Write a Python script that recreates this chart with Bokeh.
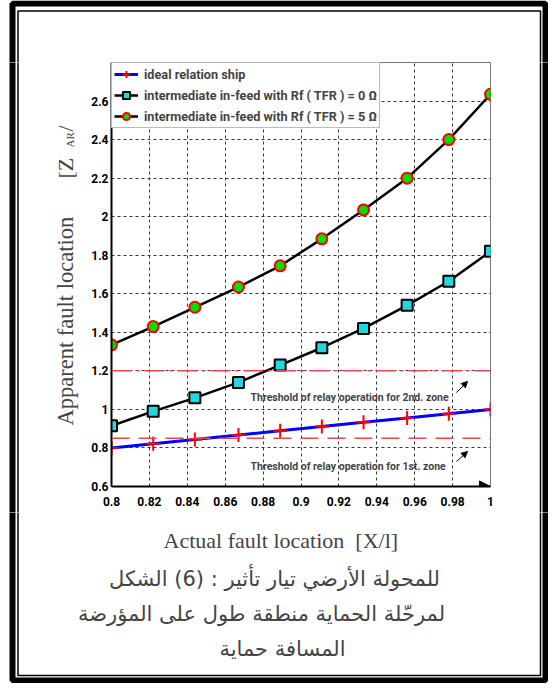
import math
from bokeh.plotting import figure
from bokeh.layouts import column, row
from bokeh.models import (FixedTicker, Legend, LegendItem, Label, BoxAnnotation,
                          Arrow, NormalHead, Span, Range1d)
from bokeh.embed import file_html
from bokeh.resources import INLINE

# ---------------- data ----------------
x_loc = [0.8, 0.822, 0.844, 0.867, 0.889, 0.911, 0.933, 0.956, 0.978, 1.0]
ideal = [0.8, 0.822, 0.844, 0.867, 0.889, 0.911, 0.933, 0.956, 0.978, 1.0]
tfr0 = [0.915, 0.99, 1.06, 1.14, 1.23, 1.32, 1.42, 1.54, 1.665, 1.82]
tfr5 = [1.335, 1.43, 1.53, 1.635, 1.745, 1.885, 2.035, 2.20, 2.40, 2.635]

x_ticks = [0.8, 0.82, 0.84, 0.86, 0.88, 0.9, 0.92, 0.94, 0.96, 0.98, 1.0]
x_tick_labels = ["0.8", "0.82", "0.84", "0.86", "0.88", "0.9", "0.92", "0.94", "0.96", "0.98", "1"]
y_ticks = [0.6, 0.8, 1.0, 1.2, 1.4, 1.6, 1.8, 2.0, 2.2, 2.4, 2.6]
y_tick_labels = ["0.6", "0.8", "1", "1.2", "1.4", "1.6", "1.8", "2", "2.2", "2.4", "2.6"]

zone1_level = 0.85
zone2_level = 1.2

legend_labels = ["ideal relation ship",
                 "intermediate in-feed with Rf ( TFR ) = 0 \u03a9",
                 "intermediate in-feed with Rf ( TFR ) = 5 \u03a9"]
zone2_text = "Threshold of relay operation for 2nd. zone"
zone1_text = "Threshold of relay operation for 1st. zone"
x_label = "Actual fault location \u00a0[X/l]"
y_label_main = "Apparent fault location"
y_label_z = "[Z"
y_label_sub = "AR"
y_label_end = "/"
# caption words in the visual (left-to-right) order of the figure
caption_lines = [
    ["الشكل", "(6)", ":", "تأثير", "تيار", "الأرضي", "للمحولة"],
    ["المؤرضة", "على", "طول", "منطقة", "الحماية", "لمرحّلة"],
    ["حماية", "المسافة"],
]

# ---------------- layout (canvas pixels) ----------------
BOLD_SANS = "Roboto"
SERIF = "Liberation Serif"
ARABIC = "DejaVu Sans"
CW, CH = 548, 683

X0, X1, Y0, Y1 = 0.8, 1.0, 0.6, 2.8
PX_L, PX_R, PY_T, PY_B = 111, 490, 62, 486   # main frame in canvas px


def dx(px):
    return X0 + (px - PX_L) / (PX_R - PX_L) * (X1 - X0)


def dy(py):
    return Y0 + (PY_B - py) / (PY_B - PY_T) * (Y1 - Y0)


def tile(ox, oy, w, h):
    f = figure(width=w, height=h, x_range=Range1d(ox, ox + w), y_range=Range1d(oy + h, oy),
               output_backend="svg", toolbar_location=None,
               x_axis_type=None, y_axis_type=None, frame_align=False,
               min_border=0, min_border_left=0, min_border_right=0,
               min_border_top=0, min_border_bottom=0)
    f.grid.visible = False
    f.outline_line_color = None
    f.background_fill_color = "white"
    f.border_fill_color = "white"
    # page frame (double rule), clipped to each tile
    f.add_layout(BoxAnnotation(left=12, right=CW - 3, top=3, bottom=CH - 3,
                               fill_color=None, fill_alpha=0, line_color="black",
                               line_alpha=1, line_width=6))
    f.add_layout(BoxAnnotation(left=17.5, right=CW - 8, top=10.5, bottom=CH - 8,
                               fill_color=None, fill_alpha=0, line_color="black",
                               line_alpha=1, line_width=1.5))
    return f


top_fig = tile(0, 0, CW, 62)
left_fig = tile(0, 62, 80, 450)
right_fig = tile(500, 62, CW - 500, 450)
bottom_fig = tile(0, 512, CW, CH - 512)

# ---------------- main chart ----------------
p = figure(width=420, height=450, x_range=Range1d(X0, X1), y_range=Range1d(Y0, Y1),
           output_backend="svg", toolbar_location=None, frame_align=False,
           min_border_left=31, min_border_right=10, min_border_top=0, min_border_bottom=26)
p.background_fill_color = "white"
p.border_fill_color = "white"
p.outline_line_color = "#777777"
p.outline_line_width = 1

for ax, ticks, labels in ((p.xaxis[0], x_ticks, x_tick_labels), (p.yaxis[0], y_ticks, y_tick_labels)):
    ax.ticker = FixedTicker(ticks=ticks)
    ax.major_label_overrides = {t: l for t, l in zip(ticks, labels)}
    ax.major_tick_out = 0
    ax.major_tick_in = 0
    ax.minor_tick_line_color = None
    ax.axis_line_color = "black"
    ax.axis_line_width = 2
    ax.major_label_text_font = BOLD_SANS
    ax.major_label_text_font_style = "bold"
    ax.major_label_text_font_size = "12px"
    ax.major_label_text_color = "black"
p.xaxis[0].major_label_standoff = 10
p.yaxis[0].major_label_standoff = 3

for g in (p.xgrid[0], p.ygrid[0]):
    g.grid_line_color = "#222222"
    g.grid_line_dash = "3 3"
    g.grid_line_width = 1
    g.grid_line_alpha = 0.9

p.add_layout(Span(location=zone2_level, dimension="width", line_color="#e84848",
                  line_dash="20 5 3 5", line_width=1.5))
p.add_layout(Span(location=zone1_level, dimension="width", line_color="#e84848",
                  line_dash="18 9", line_width=1.5))

l1 = p.line(x_loc, ideal, line_color="#0000ff", line_width=3)
s1 = p.scatter(x_loc, ideal, marker="cross", size=14, line_color="#ff0000", line_width=2)
l2 = p.line(x_loc, tfr0, line_color="black", line_width=2.5)
s2 = p.scatter(x_loc, tfr0, marker="square", size=11, fill_color="#22d8e0",
               line_color="black", line_width=2)
l3 = p.line(x_loc, tfr5, line_color="black", line_width=2.5)
s3 = p.scatter(x_loc, tfr5, marker="circle", size=11, fill_color="#00e000",
               line_color="#ff0000", line_width=2)

legend = Legend(items=[LegendItem(label=legend_labels[0], renderers=[l1, s1]),
                       LegendItem(label=legend_labels[1], renderers=[l2, s2]),
                       LegendItem(label=legend_labels[2], renderers=[l3, s3])],
                location="top_left", margin=0, padding=2, spacing=3,
                glyph_width=24, glyph_height=18, label_height=18, label_width=232,
                label_standoff=6, label_text_font=BOLD_SANS, label_text_font_style="bold",
                label_text_font_size="12.7px", border_line_color="#777777",
                background_fill_color="white", background_fill_alpha=1)
p.add_layout(legend, "center")

# axis arrow heads
p.add_layout(Arrow(end=NormalHead(size=11, fill_color="black", line_color="black"),
                   x_start=dx(478), y_start=Y0, x_end=X1, y_end=Y0, line_alpha=0))
p.add_layout(Arrow(end=NormalHead(size=11, fill_color="black", line_color="black"),
                   x_start=X0, y_start=dy(76), x_end=X0, y_end=dy(63), line_alpha=0))

for txt, base, a0, a1 in ((zone2_text, 397, (456, 392), (467, 381)),
                          (zone1_text, 466, (456, 461), (467, 451))):
    p.add_layout(Label(x=dx(250), y=dy(base), text=txt, text_font=BOLD_SANS,
                       text_font_style="bold", text_font_size="10.5px",
                       text_baseline="alphabetic", text_align="left"))
    p.add_layout(Arrow(end=NormalHead(size=6, fill_color="black", line_color="black"),
                       x_start=dx(a0[0]), y_start=dy(a0[1]), x_end=dx(a1[0]), y_end=dy(a1[1]),
                       line_width=1))

# ---------------- y title (left tile) ----------------
ybase = 65
left_fig.add_layout(Label(x=ybase, y=425, text=y_label_main, text_font=SERIF,
                          text_font_size="22.5px", angle=math.pi / 2,
                          text_baseline="alphabetic", text_align="left"))
left_fig.add_layout(Label(x=ybase, y=178, text=y_label_z, text_font=SERIF,
                          text_font_size="22px", angle=math.pi / 2,
                          text_baseline="alphabetic", text_align="left"))
left_fig.add_layout(Label(x=ybase + 4, y=147, text=y_label_sub, text_font=SERIF,
                          text_font_size="11px", angle=math.pi / 2,
                          text_baseline="alphabetic", text_align="left"))
left_fig.add_layout(Label(x=ybase, y=131, text=y_label_end, text_font=SERIF,
                          text_font_size="22px", angle=math.pi / 2,
                          text_baseline="alphabetic", text_align="left"))

# ---------------- x title + caption (bottom tile) ----------------
bottom_fig.add_layout(Label(x=163, y=540, text=x_label, text_font=SERIF,
                            text_font_size="22px", text_baseline="alphabetic", text_align="left"))
for words, (cx, cy) in zip(caption_lines, ((274, 578), (261, 613), (282, 648))):
    txt = " ".join(reversed(words))   # rendered right-to-left -> matches the figure's word order
    bottom_fig.add_layout(Label(x=cx, y=cy, text=txt, text_font=ARABIC,
                                text_font_size="21px", text_baseline="middle",
                                text_align="center"))

layout = column(top_fig, row(left_fig, p, right_fig), bottom_fig, spacing=0)
open("out.html", "w").write(file_html(layout, INLINE))
